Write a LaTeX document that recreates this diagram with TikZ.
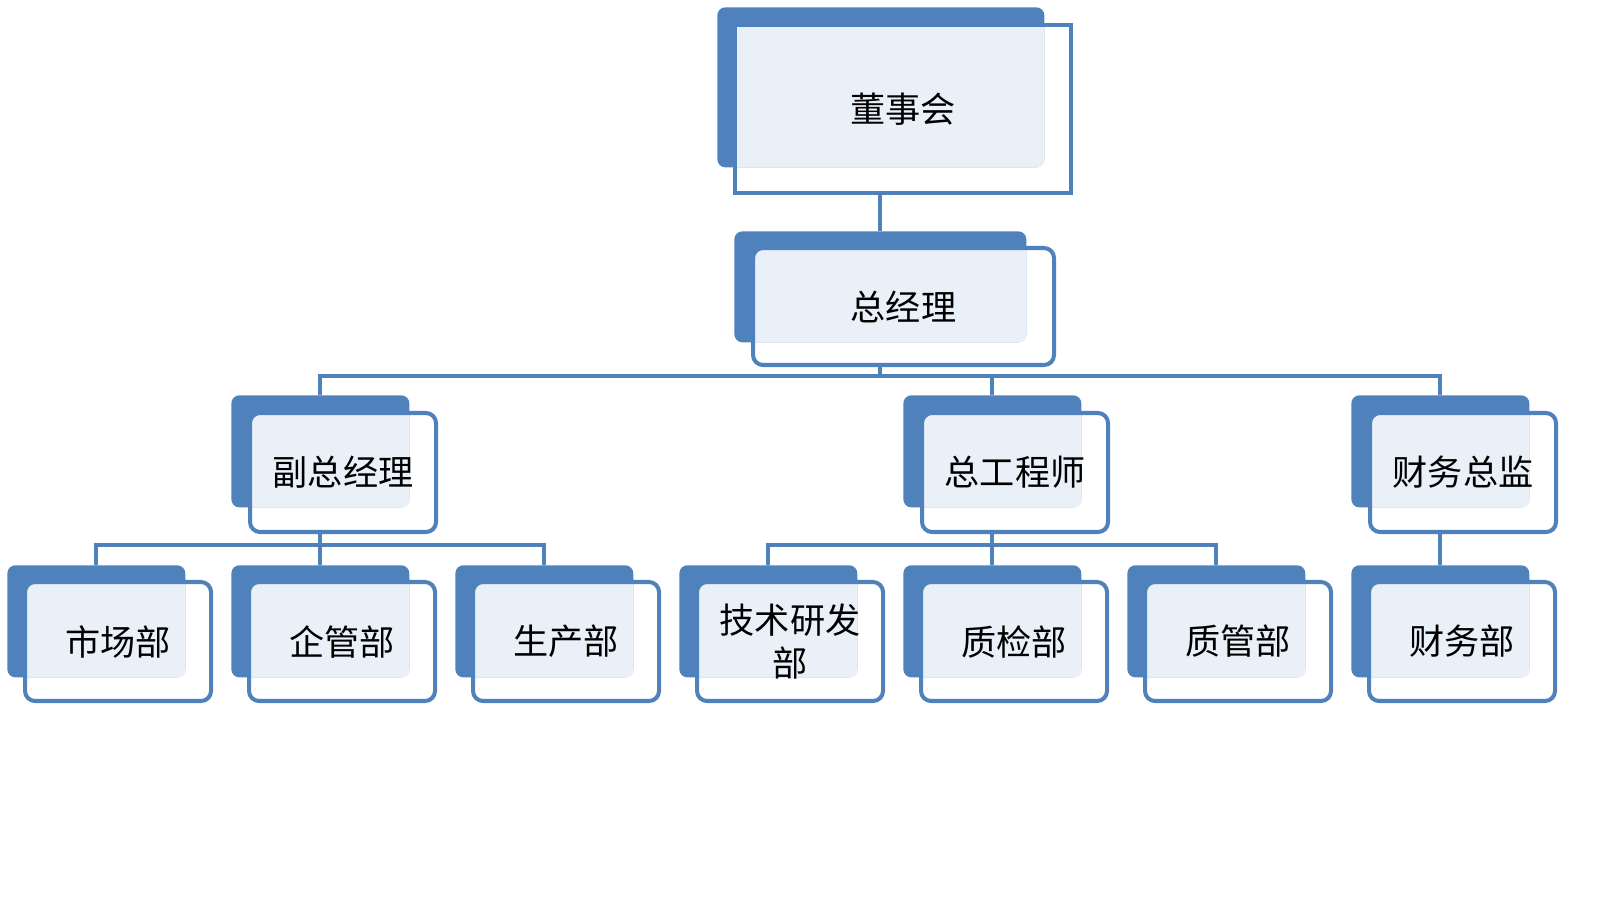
\documentclass[tikz,border=0pt]{standalone}
\usepackage{fontspec}
\newfontfamily\cjk{Noto Sans CJK SC}
\usetikzlibrary{positioning}
\definecolor{orgblue}{HTML}{4F81BD}
\definecolor{orglight}{HTML}{EAF0F8}
\begin{document}
\begin{tikzpicture}
      \tikzset{backbox/.style={anchor=north west, fill=orgblue, rounded corners=0.16cm, inner sep=0pt, minimum width=3.56cm, minimum height=2.24cm},
               frontbox/.style={anchor=north west, draw=orgblue, line width=2.3pt, rounded corners=0.2cm, inner sep=0pt, minimum width=3.72cm, minimum height=2.38cm, align=center, font=\cjk\fontsize{20}{24.5}\selectfont,
                  path picture={\fill[orglight, rounded corners=0.16cm] (#1.north west) rectangle (#1.south east);}},
               link/.style={draw=orgblue, line width=2.4pt}}
      \useasboundingbox (0,0) rectangle (32,-18.4);
%% Boxes
	%top
      	\node[backbox, minimum width=6.54cm, minimum height=3.2cm] (bdsh) at (14.34,-0.14) {};
      	\node[frontbox=bdsh, sharp corners, minimum width=6.72cm, minimum height=3.36cm, below right=0.32cm and 0.32cm of bdsh.north west] (fdsh) {董事会};
      	\node[backbox, minimum width=5.84cm, minimum height=2.22cm] (bzjl) at (14.68,-4.62) {};
      	\node[frontbox=bzjl, minimum width=6.02cm, minimum height=2.34cm, below right=0.30cm and 0.34cm of bzjl.north west] (fzjl) {总经理};
	%middle
      	\node[backbox] (bfz) at (4.62,-7.90) {};
      	\node[frontbox=bfz, below right=0.32cm and 0.34cm of bfz.north west] (ffz) {副总经理};
      	\node[backbox] (bzgs) at (18.06,-7.90) {};
      	\node[frontbox=bzgs, below right=0.32cm and 0.34cm of bzgs.north west] (fzgs) {总工程师};
      	\node[backbox] (bcwzj) at (27.02,-7.90) {};
      	\node[frontbox=bcwzj, below right=0.32cm and 0.34cm of bcwzj.north west] (fcwzj) {财务总监};
	%bottom
      	\node[backbox] (bsc) at (0.14,-11.30) {};
      	\node[frontbox=bsc, below right=0.30cm and 0.32cm of bsc.north west] (fsc) {市场部};
      	\node[backbox] (bqg) at (4.62,-11.30) {};
      	\node[frontbox=bqg, below right=0.30cm and 0.32cm of bqg.north west] (fqg) {企管部};
      	\node[backbox] (bshc) at (9.10,-11.30) {};
      	\node[frontbox=bshc, below right=0.30cm and 0.32cm of bshc.north west] (fshc) {生产部};
      	\node[backbox] (bjs) at (13.58,-11.30) {};
      	\node[frontbox=bjs, below right=0.30cm and 0.32cm of bjs.north west] (fjs) {技术研发\\部};
      	\node[backbox] (bzj) at (18.06,-11.30) {};
      	\node[frontbox=bzj, below right=0.30cm and 0.32cm of bzj.north west] (fzj) {质检部};
      	\node[backbox] (bzg) at (22.54,-11.30) {};
      	\node[frontbox=bzg, below right=0.30cm and 0.32cm of bzg.north west] (fzg) {质管部};
      	\node[backbox] (bcw) at (27.02,-11.30) {};
      	\node[frontbox=bcw, below right=0.30cm and 0.32cm of bcw.north west] (fcw) {财务部};
%% Lines
      	\coordinate (bus1) at (0,-7.52);
      	\coordinate (bus2) at (0,-10.90);
		\draw[link] (bzjl.north |- fdsh.south) -- (bzjl.north);
		\draw[link] (bzjl.south |- fzjl.south) -- (bzjl.south |- bus1);
		\draw[link] (bfz.north) -- (bfz.north |- bus1) -- (bcwzj.north |- bus1) -- (bcwzj.north);
		\draw[link] (bzgs.north |- bus1) -- (bzgs.north);
	%under副总经理
		\draw[link] (bfz.south |- ffz.south) -- (bfz.south |- bus2);
		\draw[link] (bsc.north) -- (bsc.north |- bus2) -- (bshc.north |- bus2) -- (bshc.north);
		\draw[link] (bqg.north |- bus2) -- (bqg.north);
	%under总工程师
		\draw[link] (bzgs.south |- fzgs.south) -- (bzgs.south |- bus2);
		\draw[link] (bjs.north) -- (bjs.north |- bus2) -- (bzg.north |- bus2) -- (bzg.north);
		\draw[link] (bzj.north |- bus2) -- (bzj.north);
	%under财务总监
		\draw[link] (bcwzj.south |- fcwzj.south) -- (bcw.north);

	\end{tikzpicture}
\end{document}
